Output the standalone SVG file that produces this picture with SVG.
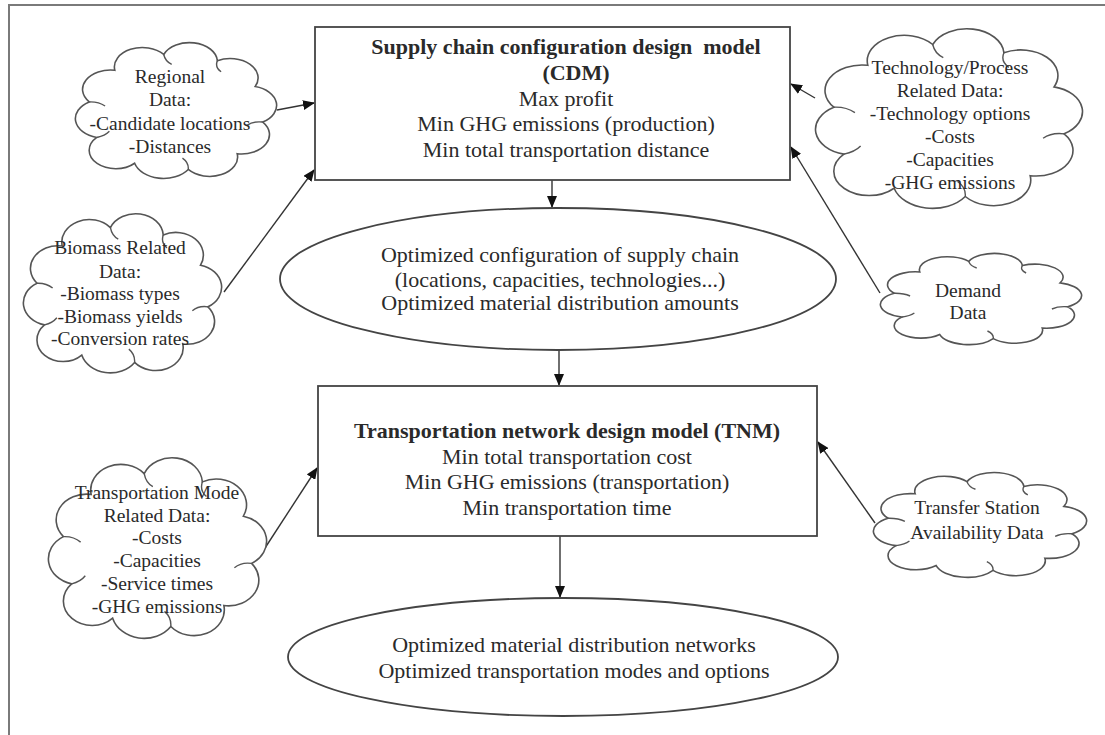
<svg xmlns="http://www.w3.org/2000/svg" xmlns:xlink="http://www.w3.org/1999/xlink" width="1105" height="735" viewBox="0 0 1105 735">
<style>
.frame{stroke:#7a7a7a;stroke-width:2;fill:none}
.box{fill:#fff;stroke:#444;stroke-width:1.8}
.cloud{fill:#fff;stroke:#555;stroke-width:1.6;vector-effect:non-scaling-stroke}
.hook{fill:none;stroke:#555;stroke-width:1.4;vector-effect:non-scaling-stroke}
.conn{stroke:#333;stroke-width:1.4;fill:none}
.t{font-family:"Liberation Serif","Times New Roman",serif;fill:#2a2a2a;text-anchor:middle}
.m{font-size:22px}
.c{font-size:19.5px}
.b{font-weight:bold}
</style>
<defs>
<g id="cloudshape">
<path class="cloud" d="M90.38,56.77 A13,13 0 0 1 78.48,78.05 A13,13 0 0 1 55.71,88.62 A14,14 0 0 1 30.75,84.43 A12,12 0 0 1 13.15,67.10 A13,13 0 0 1 9.62,43.23 A13,13 0 0 1 21.52,21.95 A13,13 0 0 1 44.29,11.38 A13,13 0 0 1 69.25,15.57 A13,13 0 0 1 86.85,32.90 A13,13 0 0 1 90.38,56.77 Z"/>
<path class="hook" d="M90.38,56.77 Q86,56 83,59 M55.71,88.62 Q56,84 53,81 M9.62,43.23 Q14,43 17,46 M44.29,11.38 Q45,16 48,18 M13.15,67.10 Q17,66 19,63 M69.25,15.57 Q68,20 71,23"/>
</g>
<marker id="ah" markerUnits="userSpaceOnUse" markerWidth="12" markerHeight="10" refX="11" refY="5" orient="auto">
<path d="M0,0 L12,5 L0,10 Z" fill="#111"/>
</marker>
</defs>
<rect width="1105" height="735" fill="#fff"/>
<path class="frame" d="M9,735 L9,5 L1105,5"/>

<g id="connectors">
<line class="conn" x1="552" y1="180" x2="552" y2="207" marker-end="url(#ah)"/>
<line class="conn" x1="559" y1="350" x2="559" y2="385" marker-end="url(#ah)"/>
<line class="conn" x1="560" y1="536" x2="560" y2="597" marker-end="url(#ah)"/>
<line class="conn" x1="277" y1="110" x2="314" y2="103" marker-end="url(#ah)"/>
<line class="conn" x1="224" y1="292" x2="314" y2="170" marker-end="url(#ah)"/>
<line class="conn" x1="815" y1="98" x2="791" y2="84" marker-end="url(#ah)"/>
<line class="conn" x1="880" y1="293" x2="791" y2="147" marker-end="url(#ah)"/>
<line class="conn" x1="265" y1="548" x2="317" y2="468" marker-end="url(#ah)"/>
<line class="conn" x1="875" y1="523" x2="818" y2="442" marker-end="url(#ah)"/>
</g>

<g id="cdm">
<rect class="box" x="315" y="27" width="475" height="153"/>
<text class="t m b" x="566" y="54" xml:space="preserve">Supply chain configuration design  model</text>
<text class="t m b" x="576" y="80">(CDM)</text>
<text class="t m" x="566" y="106">Max profit</text>
<text class="t m" x="566" y="131">Min GHG emissions (production)</text>
<text class="t m" x="566" y="157">Min total transportation distance</text>
</g>

<g id="ellipse1">
<ellipse cx="558" cy="279" rx="278" ry="71" class="box"/>
<text class="t m" x="560" y="262">Optimized configuration of supply chain</text>
<text class="t m" x="560" y="287">(locations, capacities, technologies...)</text>
<text class="t m" x="560" y="310">Optimized material distribution amounts</text>
</g>

<g id="tnm">
<rect class="box" x="318" y="386" width="499" height="150"/>
<text class="t m b" x="567" y="438">Transportation network design model (TNM)</text>
<text class="t m" x="567" y="464">Min total transportation cost</text>
<text class="t m" x="567" y="489">Min GHG emissions (transportation)</text>
<text class="t m" x="567" y="515">Min transportation time</text>
</g>

<g id="ellipse2">
<ellipse cx="563" cy="657" rx="275" ry="59" class="box"/>
<text class="t m" x="574" y="652">Optimized material distribution networks</text>
<text class="t m" x="574" y="678">Optimized transportation modes and options</text>
</g>

<g id="regional">
<use xlink:href="#cloudshape" transform="translate(68.55,37.53) scale(2.149,1.489)"/>
<text class="t c" x="170" y="83">Regional</text>
<text class="t c" x="170" y="106">Data:</text>
<text class="t c" x="170" y="130">-Candidate locations</text>
<text class="t c" x="170" y="153">-Distances</text>
</g>

<g id="biomass">
<use xlink:href="#cloudshape" transform="translate(16.65,207.77) scale(2.117,1.745)"/>
<text class="t c" x="120" y="254">Biomass Related</text>
<text class="t c" x="120" y="278">Data:</text>
<text class="t c" x="120" y="300">-Biomass types</text>
<text class="t c" x="120" y="323">-Biomass yields</text>
<text class="t c" x="120" y="345">-Conversion rates</text>
</g>

<g id="technology">
<use xlink:href="#cloudshape" transform="translate(806.45,22.1) scale(2.851,1.968)"/>
<text class="t c" x="950" y="74">Technology/Process</text>
<text class="t c" x="950" y="97">Related Data:</text>
<text class="t c" x="950" y="120">-Technology options</text>
<text class="t c" x="950" y="143">-Costs</text>
<text class="t c" x="950" y="166">-Capacities</text>
<text class="t c" x="950" y="189">-GHG emissions</text>
</g>

<g id="demand">
<use xlink:href="#cloudshape" transform="translate(873.55,250) scale(2.149,1.0)"/>
<text class="t c" x="968" y="297">Demand</text>
<text class="t c" x="968" y="319">Data</text>
</g>

<g id="transfer">
<use xlink:href="#cloudshape" transform="translate(866.17,468.55) scale(2.277,1.149)"/>
<text class="t c" x="977" y="514">Transfer Station</text>
<text class="t c" x="977" y="539">Availability Data</text>
</g>

<g id="transportmode">
<use xlink:href="#cloudshape" transform="translate(41.01,451.06) scale(2.33,1.979)"/>
<text class="t c" x="157" y="499">Transportation Mode</text>
<text class="t c" x="157" y="522">Related Data:</text>
<text class="t c" x="157" y="544">-Costs</text>
<text class="t c" x="157" y="567">-Capacities</text>
<text class="t c" x="157" y="590">-Service times</text>
<text class="t c" x="157" y="613">-GHG emissions</text>
</g>
</svg>
